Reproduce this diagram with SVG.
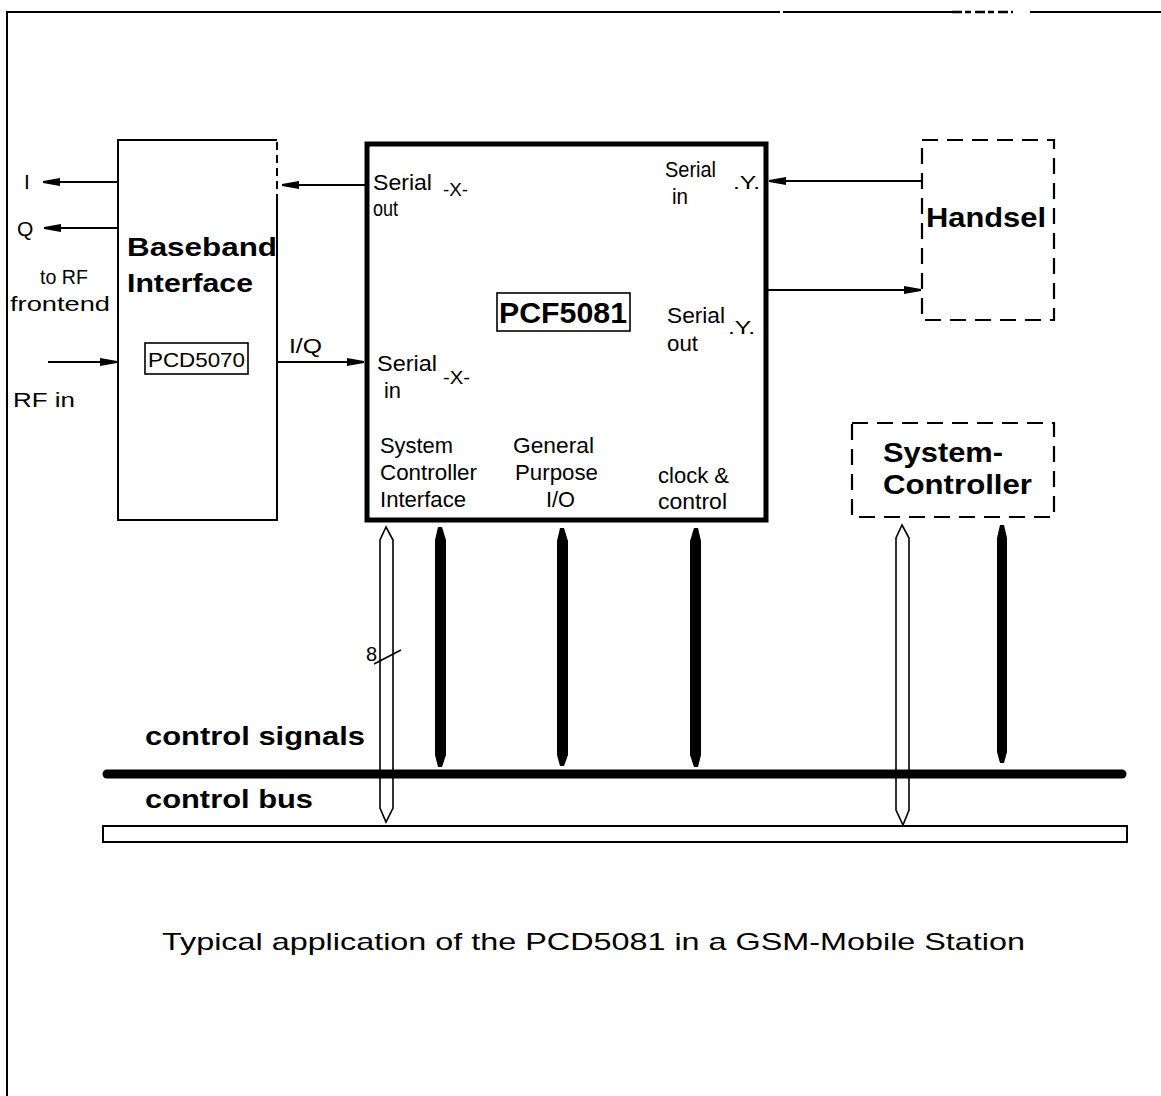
<svg xmlns="http://www.w3.org/2000/svg" width="1161" height="1096" viewBox="0 0 1161 1096">
<defs>
<style>
text{font-family:"Liberation Sans",Arial,sans-serif;fill:#000}
.b{font-weight:bold}
.s{font-size:22px}
.box{fill:#fff;stroke:#000;stroke-width:2}
.dash{fill:none;stroke:#000;stroke-width:2.2;stroke-dasharray:16 9}
.ln{stroke:#000;stroke-width:2;fill:none}
.hollow{fill:#fff;stroke:#000;stroke-width:1.6}
.bar{fill:#000}
</style>
<marker id="ah" markerWidth="18" markerHeight="10" refX="17" refY="5" orient="auto" markerUnits="userSpaceOnUse">
<path d="M0,1 L17,4 L17,6 L0,9 Z" fill="#000"/>
</marker>
</defs>
<rect width="1161" height="1096" fill="#fff"/>
<g id="frame">
<path class="ln" d="M7,1096 V12 H780 M783,12 H952 M1030,12 H1161"/>
<path d="M952,12 H1013" stroke="#000" stroke-width="2.5" stroke-dasharray="10 3 6 4"/>
</g>
<g id="baseband">
<path class="ln" d="M277,197 V520 H118 V140 H277"/>
<path class="ln" d="M277,142 V197" stroke-dasharray="8 5"/>
<text class="b" x="127" y="256" font-size="26" textLength="150" lengthAdjust="spacingAndGlyphs">Baseband</text>
<text class="b" x="127" y="292" font-size="26" textLength="126" lengthAdjust="spacingAndGlyphs">Interface</text>
<rect x="145" y="343" width="103" height="31" fill="none" stroke="#000" stroke-width="1.6"/>
<text x="148" y="367" font-size="21" textLength="97" lengthAdjust="spacingAndGlyphs">PCD5070</text>
</g>
<g id="rf-labels">
<text x="24" y="189" font-size="21">I</text>
<text x="17" y="236" font-size="21">Q</text>
<text x="40" y="284" font-size="21" textLength="48" lengthAdjust="spacingAndGlyphs">to RF</text>
<text x="10" y="311" font-size="21" textLength="100" lengthAdjust="spacingAndGlyphs">frontend</text>
<text x="13" y="407" font-size="21" textLength="62" lengthAdjust="spacingAndGlyphs">RF in</text>
</g>
<g id="pcf5081">
<rect x="367" y="144" width="399" height="376" fill="none" stroke="#000" stroke-width="5"/>
<rect x="497" y="293" width="133" height="38" fill="none" stroke="#000" stroke-width="1.6"/>
<text class="b" x="499" y="323" font-size="29" textLength="128" lengthAdjust="spacingAndGlyphs">PCF5081</text>
<text class="s" x="373" y="190" textLength="59" lengthAdjust="spacingAndGlyphs">Serial</text>
<text class="s" x="373" y="216" textLength="25" lengthAdjust="spacingAndGlyphs">out</text>
<text x="443" y="196" font-size="18" textLength="25" lengthAdjust="spacingAndGlyphs">-X-</text>
<text class="s" x="665" y="177" textLength="51" lengthAdjust="spacingAndGlyphs">Serial</text>
<text class="s" x="672" y="204" textLength="16" lengthAdjust="spacingAndGlyphs">in</text>
<text x="733" y="189" font-size="18" textLength="27" lengthAdjust="spacingAndGlyphs">.Y.</text>
<text class="s" x="667" y="323" textLength="58" lengthAdjust="spacingAndGlyphs">Serial</text>
<text class="s" x="667" y="351" textLength="31" lengthAdjust="spacingAndGlyphs">out</text>
<text x="728" y="334" font-size="18" textLength="27" lengthAdjust="spacingAndGlyphs">.Y.</text>
<text class="s" x="377" y="371" textLength="60" lengthAdjust="spacingAndGlyphs">Serial</text>
<text class="s" x="384" y="398" textLength="17" lengthAdjust="spacingAndGlyphs">in</text>
<text x="443" y="384" font-size="18" textLength="27" lengthAdjust="spacingAndGlyphs">-X-</text>
<text class="s" x="380" y="453" textLength="73" lengthAdjust="spacingAndGlyphs">System</text>
<text class="s" x="380" y="480" textLength="97" lengthAdjust="spacingAndGlyphs">Controller</text>
<text class="s" x="380" y="507" textLength="86" lengthAdjust="spacingAndGlyphs">Interface</text>
<text class="s" x="513" y="453" textLength="81" lengthAdjust="spacingAndGlyphs">General</text>
<text class="s" x="515" y="480" textLength="83" lengthAdjust="spacingAndGlyphs">Purpose</text>
<text class="s" x="546" y="507" textLength="29" lengthAdjust="spacingAndGlyphs">I/O</text>
<text class="s" x="658" y="483" textLength="71" lengthAdjust="spacingAndGlyphs">clock &amp;</text>
<text class="s" x="658" y="509" textLength="69" lengthAdjust="spacingAndGlyphs">control</text>
</g>
<g id="handsel">
<rect class="dash" x="922" y="140" width="132" height="180"/>
<text class="b" x="926" y="227" font-size="27" textLength="120" lengthAdjust="spacingAndGlyphs">Handsel</text>
</g>
<g id="system-controller">
<rect class="dash" x="852" y="423" width="202" height="94"/>
<text class="b" x="883" y="462" font-size="27" textLength="120" lengthAdjust="spacingAndGlyphs">System-</text>
<text class="b" x="883" y="494" font-size="27" textLength="149" lengthAdjust="spacingAndGlyphs">Controller</text>
</g>
<g id="connectors">
<line class="ln" x1="117" y1="182" x2="43" y2="182" marker-end="url(#ah)"/>
<line class="ln" x1="117" y1="228" x2="44" y2="228" marker-end="url(#ah)"/>
<line class="ln" x1="48" y1="362" x2="117" y2="362" marker-end="url(#ah)"/>
<line class="ln" x1="365" y1="185" x2="282" y2="185" marker-end="url(#ah)"/>
<line class="ln" x1="277" y1="362" x2="364" y2="362" marker-end="url(#ah)"/>
<text x="289" y="353" font-size="21" textLength="33" lengthAdjust="spacingAndGlyphs">I/Q</text>
<line class="ln" x1="921" y1="181" x2="769" y2="181" marker-end="url(#ah)"/>
<line class="ln" x1="768" y1="290" x2="921" y2="290" marker-end="url(#ah)"/>
<path class="hollow" d="M386,527 L393,540 V808 L386,822 L380,808 V540 Z"/>
<path d="M374,664 L401,650" stroke="#000" stroke-width="1.6"/>
<text x="366" y="661" font-size="20">8</text>
<path class="hollow" d="M902,525 L909,538 V810 L903,825 L896,810 V538 Z"/>
<path class="bar" d="M438,527 H442 L446,540 V755 L442,767 H438 L435,755 V540 Z"/>
<path class="bar" d="M560,528 H564 L568,541 V755 L564,766 H560 L557,755 V541 Z"/>
<path class="bar" d="M694,528 H698 L701,541 V755 L698,767 H694 L690,755 V541 Z"/>
<path class="bar" d="M1000,525 H1004 L1007,538 V752 L1004,763 H1000 L997,752 V538 Z"/>
<line x1="107" y1="774" x2="1122" y2="774" stroke="#000" stroke-width="9" stroke-linecap="round"/>
<rect x="103" y="826" width="1024" height="16" fill="none" stroke="#000" stroke-width="2"/>
</g>
<g id="labels">
<text class="b" x="145" y="745" font-size="25" textLength="220" lengthAdjust="spacingAndGlyphs">control signals</text>
<text class="b" x="145" y="808" font-size="25" textLength="168" lengthAdjust="spacingAndGlyphs">control bus</text>
<text x="162" y="950" font-size="24" textLength="863" lengthAdjust="spacingAndGlyphs">Typical application of the PCD5081 in a GSM-Mobile Station</text>
</g>
</svg>
